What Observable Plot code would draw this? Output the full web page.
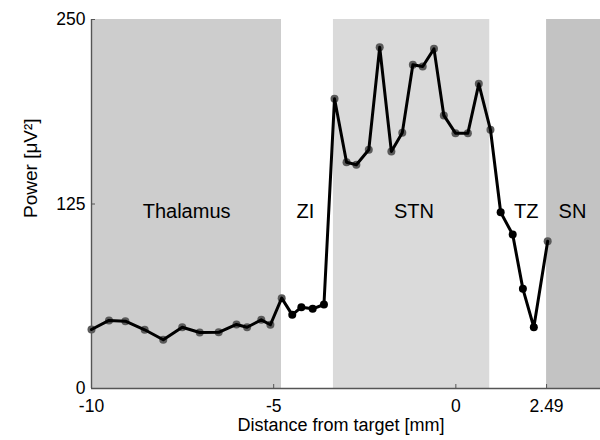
<!DOCTYPE html>
<html>
<head>
<meta charset="utf-8">
<script src="https://cdn.jsdelivr.net/npm/d3@7"></script>
<script src="https://cdn.jsdelivr.net/npm/@observablehq/plot@0.6"></script>
<style>
  html, body { margin: 0; padding: 0; background: #fff; }
  #chart { width: 600px; height: 440px; }
</style>
</head>
<body>
<div id="chart"></div>
<script>
// Recording depth along the electrode track (mm from target) and measured power (µV²)
const distance = [
  -10.0, -9.52, -9.07, -8.54, -8.03, -7.51, -7.03, -6.51, -6.02, -5.73,
  -5.34, -5.09, -4.78, -4.49, -4.24, -3.93, -3.62, -3.33, -3.00, -2.73,
  -2.39, -2.09, -1.77, -1.47, -1.18, -0.91, -0.60, -0.33, -0.01, 0.33,
  0.63, 0.95, 1.23, 1.56, 1.84, 2.14, 2.52
];
const power = [
  40.0, 46.1, 45.6, 39.8, 33.0, 41.5, 37.9, 38.1, 43.4, 41.5,
  46.5, 43.2, 61.2, 49.9, 55.1, 54.0, 56.9, 196.3, 153.3, 151.6,
  161.7, 231.2, 160.6, 173.2, 219.3, 218.2, 230.1, 185.0, 173.0, 173.0,
  206.4, 175.3, 119.4, 104.3, 67.5, 41.5, 99.8
];

// Anatomical regions crossed by the track
const regionNames = ["Thalamus", "ZI", "STN", "TZ", "SN"];
const regionStart = [-10, -4.785, -3.36, 0.93, 2.49];
const regionEnd = [-4.785, -3.36, 0.93, 2.49, 3.97];
const regionLabelX = [-7.39, -4.13, -1.15, 1.93, 3.2];
const regionLabelPower = 120;

// Axis ticks
const xTicks = [-10, -5, 0, 2.49];
const yTicks = [0, 125, 250];

const shade = {Thalamus: "#cdcdcd", ZI: "none", STN: "#dadada", TZ: "none", SN: "#c3c3c3"};

const regions = regionNames.map((name, i) => ({name, x1: regionStart[i], x2: regionEnd[i], lx: regionLabelX[i]}));
const points = distance.map((d, i) => ({d, p: power[i]}));
const inShade = d => regions.some(r => shade[r.name] !== "none" && d >= r.x1 - 0.02 && d <= r.x2 + 0.02);

const font = "'Liberation Sans', Arial, Helvetica, sans-serif";

const chart = Plot.plot({
  width: 600,
  height: 440,
  marginLeft: 91,
  marginRight: 0,
  marginTop: 19,
  marginBottom: 52,
  style: {fontFamily: font, background: "#fff", color: "#000"},
  x: {domain: [-10, 3.97]},
  y: {domain: [0, 250]},
  marks: [
    Plot.rectY(regions.filter(r => shade[r.name] !== "none"), {x1: "x1", x2: "x2", y1: 0, y2: 250, fill: r => shade[r.name]}),
    Plot.ruleY([0], {stroke: "#555", strokeWidth: 1.4}),
    Plot.ruleX([-10], {y1: 0, y2: 250, stroke: "#555", strokeWidth: 1.4}),
    Plot.ruleX(xTicks, {x: d => d, y1: 0, y2: 0, insetBottom: 4, stroke: "#555"}),
    Plot.ruleY(yTicks, {y: d => d, x1: -10, x2: -10, insetRight: -4, stroke: "#555"}),
    Plot.axisX(xTicks, {tickSize: 0, tickPadding: 11, tickFormat: d => String(d), fontSize: 17.5, label: null}),
    Plot.axisY(yTicks, {tickSize: 0, tickPadding: 6, tickFormat: d => String(d), fontSize: 17.5, label: null}),
    Plot.text(regions, {x: "lx", y: () => regionLabelPower, text: "name", fontSize: 20, fill: "#000"}),
    Plot.dot(points, {x: "d", y: "p", r: 4, fill: d => inShade(d.d) ? "#5a5a5a" : "#000", stroke: "none"}),
    Plot.line(points, {x: "d", y: "p", stroke: "#000", strokeWidth: 3, strokeLinejoin: "round"}),
    Plot.text(["Distance from target [mm]"], {frameAnchor: "bottom", dy: 42, dx: -5, fontSize: 18, fill: "#000"}),
    Plot.text(["Power [μV²]"], {frameAnchor: "left", dx: -61, dy: 14, rotate: -90, fontSize: 19, fill: "#000"})
  ]
});

document.getElementById("chart").append(chart);
</script>
</body>
</html>
